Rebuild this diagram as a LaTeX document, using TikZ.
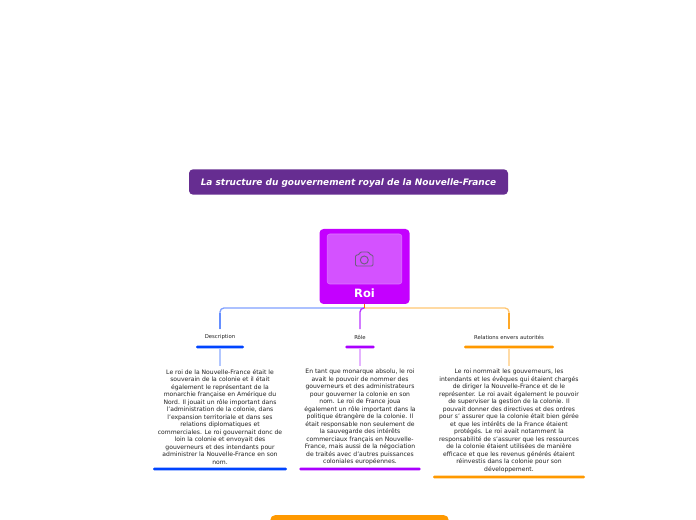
\documentclass[tikz,border=0pt]{standalone}
\usepackage{fontspec}
\setmainfont{DejaVu Sans}
\usepackage{xcolor}
\usetikzlibrary{positioning,calc}
\definecolor{titlebg}{HTML}{662D91}
\definecolor{roifill}{HTML}{C400FF}
\definecolor{roiinner}{HTML}{D452FF}
\definecolor{roiedge}{HTML}{DD77FF}
\definecolor{camgrey}{HTML}{6F5F80}
\definecolor{blue2}{HTML}{0044FF}
\definecolor{purple2}{HTML}{AA00FF}
\definecolor{orange2}{HTML}{FF9900}
\definecolor{inktext}{HTML}{222222}

\begin{document}
\begin{tikzpicture}[
      x=0.75pt, y=-0.75pt,
      titlebox/.style={fill=titlebg, rounded corners=3pt, minimum width=239.25pt, minimum height=19pt, inner sep=0pt, text=white, font=\fontsize{6.72}{8}\selectfont\bfseries\itshape},
      roibox/.style={fill=roifill, rounded corners=3pt, minimum width=67.5pt, minimum height=56.25pt, inner sep=0pt},
      imgbox/.style={fill=roiinner, draw=roiedge, line width=0.4pt, rounded corners=2pt, minimum width=56pt, minimum height=37.5pt, inner sep=0pt},
      roilbl/.style={text=white, inner sep=0pt, font=\fontsize{8.6}{10}\selectfont\bfseries},
      lbl/.style={text=inktext, inner sep=1.5pt, font=\fontsize{4}{5}\selectfont},
      body/.style={text=inktext, align=center, inner sep=2.2pt, font=\fontsize{4.55}{5.625}\selectfont},
      bar/.style={rounded corners=1pt, minimum height=2.2pt, inner sep=0pt},
      link/.style={line width=1pt, rounded corners=3pt}
  ]
    \useasboundingbox (0,0) rectangle (696,520);
    \clip (0,0) rectangle (696,520);
    \fill[white] (0,0) rectangle (696,520);

    \node[titlebox] (title) at (348.5,182) {\raisebox{-2.8pt}[0pt][0pt]{La structure du gouvernement royal de la Nouvelle-France}};
    \node[roibox] (roi) at (364.5,266.5) {};
    \node[imgbox] (img) at (364.5,259) {};
    \node[roilbl] (roitxt) at (364.5,293) {Roi};
    \draw[camgrey, line width=0.7pt, rounded corners=1pt] (355.5,266) -- (355.5,255) -- (359,255) -- (360,252) -- (369,252) -- (370,255) -- (373,255) -- (373,266) -- cycle;
    \draw[camgrey, line width=0.7pt] (364.3,260) circle (4);

    % the three branches
    \node[lbl] (desc) at (220,337.5) {Description};
    \node[lbl] (role) at (360,337.5) {Rôle};
    \node[lbl] (rel) at (509,337.5) {Relations envers autorités};
    \node[bar, fill=blue2, minimum width=36pt] (descbar) at (220,347) {};
    \node[bar, fill=purple2, minimum width=22pt] (rolebar) at (360,347) {};
    \node[bar, fill=orange2, minimum width=67.5pt] (relbar) at (509,347) {};

    \node[body] (desctxt) at (220,417) {Le roi de la Nouvelle-France était le\\souverain de la colonie et il était\\également le représentant de la\\monarchie française en Amérique du\\Nord. Il jouait un rôle important dans\\l'administration de la colonie, dans\\l'expansion territoriale et dans ses\\relations diplomatiques et\\commerciales. Le roi gouvernait donc de\\loin la colonie et envoyait des\\gouverneurs et des intendants pour\\administrer la Nouvelle-France en son\\nom.};
    \node[body] (roletxt) at (360,417) {En tant que monarque absolu, le roi\\avait le pouvoir de nommer des\\gouverneurs et des administrateurs\\pour gouverner la colonie en son\\nom. Le roi de France joua\\également un rôle important dans la\\politique étrangère de la colonie. Il\\était responsable non seulement de\\la sauvegarde des intérêts\\commerciaux français en Nouvelle-\\France, mais aussi de la négociation\\de traités avec d'autres puissances\\coloniales européennes.};
    \node[body] (reltxt) at (509,421) {Le roi nommait les gouverneurs, les\\intendants et les évêques qui étaient chargés\\de diriger la Nouvelle-France et de le\\représenter. Le roi avait également le pouvoir\\de superviser la gestion de la colonie. Il\\pouvait donner des directives et des ordres\\pour s' assurer que la colonie était bien gérée\\et que les intérêts de la France étaient\\protégés. Le roi avait notamment la\\responsabilité de s'assurer que les ressources\\de la colonie étaient utilisées de manière\\efficace et que les revenus générés étaient\\réinvestis dans la colonie pour son\\développement.};

    \node[bar, fill=blue2, minimum width=100.5pt] (descend) at (220,469) {};
    \node[bar, fill=purple2, minimum width=91pt] (roleend) at (360,469) {};
    \node[bar, fill=orange2, minimum width=114pt] (relend) at (509,477) {};
    \node[fill=orange2, rounded corners=4pt, minimum width=134pt, minimum height=30pt, inner sep=0pt] (next) at (359.5,535) {};

    % connectors
    \coordinate (bus) at (364.5,308);
    \coordinate (descin) at (220,329);
    \coordinate (rolein) at (360,329);
    \coordinate (relin) at (509,329);
    \draw[link, blue2!50] (bus) -| (descin);
    \draw[link, orange2!55] (bus) -| (relin);
    \draw[line width=1pt, blue2!60] (220,313) -- (descin);
    \draw[line width=1pt, orange2!85] (509,313) -- (relin);
    \draw[link, purple2!80] (bus) -| (rolein);
    \draw[line width=1pt, orange2!70!red] (roi.south) -- (bus);
    \draw[line width=1pt, blue2!30] (descbar) -- (desctxt);
    \draw[line width=1pt, purple2!30] (rolebar) -- (roletxt);
    \draw[line width=1pt, orange2!35] (relbar) -- (reltxt);
  \end{tikzpicture}
\end{document}
